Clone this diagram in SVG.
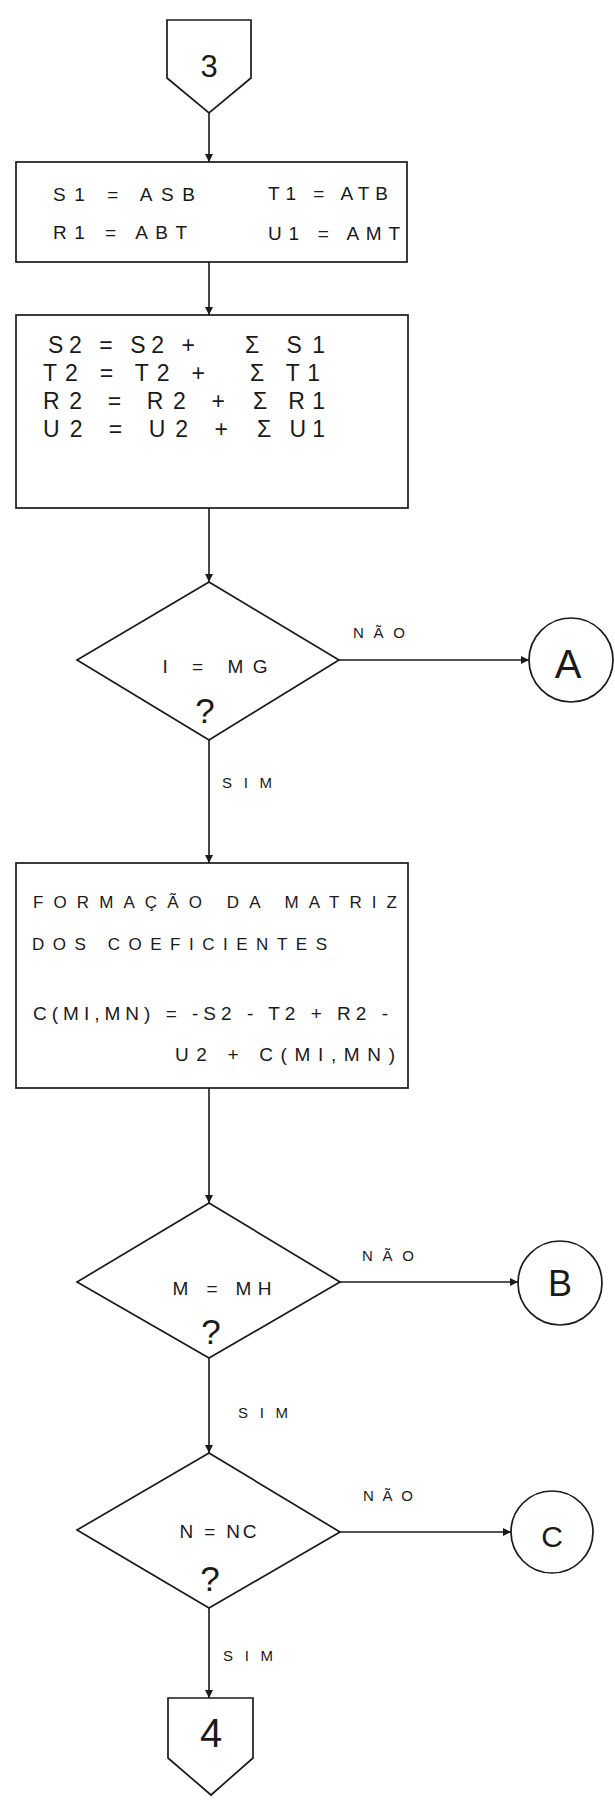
<svg xmlns="http://www.w3.org/2000/svg" width="615" height="1805" viewBox="0 0 615 1805">
<style>
  .shape { fill: none; stroke: #1a1a1a; stroke-width: 1.7; stroke-linejoin: miter; }
  .conn { fill: none; stroke: #1a1a1a; stroke-width: 1.6; }
  text { font-family: "Liberation Sans", Arial, sans-serif; fill: #1a1a1a; }
  .b1 { font-size: 19px; }
  .b2 { font-size: 23px; }
  .b3 { font-size: 17px; }
  .b3f { font-size: 19px; }
  .dec { font-size: 19px; text-anchor: middle; }
  .q { font-size: 35px; text-anchor: middle; }
  .lbl { font-size: 15px; }
  .big { text-anchor: middle; }
</style>
<defs>
  <marker id="arr" viewBox="0 0 10 10" refX="10" refY="5" markerWidth="8" markerHeight="8" markerUnits="userSpaceOnUse" orient="auto">
    <path d="M0,0 L10,5 L0,10 Z" fill="#1a1a1a"/>
  </marker>
</defs>
<rect x="0" y="0" width="615" height="1805" fill="#ffffff"/>

<g id="connectors">
  <line class="conn" x1="209" y1="113" x2="209" y2="162" marker-end="url(#arr)"/>
  <line class="conn" x1="209" y1="262" x2="209" y2="315" marker-end="url(#arr)"/>
  <line class="conn" x1="209" y1="508" x2="209" y2="582" marker-end="url(#arr)"/>
  <line class="conn" x1="209" y1="740" x2="209" y2="863" marker-end="url(#arr)"/>
  <line class="conn" x1="209" y1="1088" x2="209" y2="1203" marker-end="url(#arr)"/>
  <line class="conn" x1="209" y1="1358" x2="209" y2="1453" marker-end="url(#arr)"/>
  <line class="conn" x1="209" y1="1608" x2="209" y2="1698" marker-end="url(#arr)"/>
  <line class="conn" x1="339" y1="660" x2="529" y2="660" marker-end="url(#arr)"/>
  <line class="conn" x1="340" y1="1282" x2="518" y2="1282" marker-end="url(#arr)"/>
  <line class="conn" x1="340" y1="1532" x2="511" y2="1532" marker-end="url(#arr)"/>
  <text class="lbl" x="353" y="638" textLength="52" lengthAdjust="spacing">NÃO</text>
  <text class="lbl" x="222" y="788" textLength="50" lengthAdjust="spacing">SIM</text>
  <text class="lbl" x="362" y="1261" textLength="52" lengthAdjust="spacing">NÃO</text>
  <text class="lbl" x="238" y="1418" textLength="50" lengthAdjust="spacing">SIM</text>
  <text class="lbl" x="363" y="1501" textLength="50" lengthAdjust="spacing">NÃO</text>
  <text class="lbl" x="223" y="1661" textLength="50" lengthAdjust="spacing">SIM</text>
</g>

<g id="offpage3">
  <path class="shape" d="M167,20 L251,20 L251,78 L209,113 L167,78 Z"/>
  <text class="big" x="209" y="77" font-size="31">3</text>
</g>

<g id="box1">
  <rect class="shape" x="16" y="162" width="391" height="100"/>
  <text class="b1" x="53" y="201" textLength="142" lengthAdjust="spacing">S1 = ASB</text>
  <text class="b1" x="53" y="239" textLength="134" lengthAdjust="spacing">R1 = ABT</text>
  <text class="b1" x="268" y="200" textLength="120" lengthAdjust="spacing">T1 = ATB</text>
  <text class="b1" x="268" y="240" textLength="132" lengthAdjust="spacing">U1 = AMT</text>
</g>

<g id="box2">
  <rect class="shape" x="16" y="315" width="392" height="193"/>
  <text class="b2" x="48" y="353" textLength="147" lengthAdjust="spacing">S2 = S2 +</text>
  <text class="b2" x="43" y="381" textLength="162" lengthAdjust="spacing">T2 = T2 +</text>
  <text class="b2" x="43" y="409" textLength="182" lengthAdjust="spacing">R2 = R2 +</text>
  <text class="b2" x="43" y="437" textLength="185" lengthAdjust="spacing">U2 = U2 +</text>
  <text class="b2" x="245" y="353" textLength="80" lengthAdjust="spacing">Σ S1</text>
  <text class="b2" x="250" y="381" textLength="70" lengthAdjust="spacing">Σ T1</text>
  <text class="b2" x="253" y="409" textLength="72" lengthAdjust="spacing">Σ R1</text>
  <text class="b2" x="257" y="437" textLength="68" lengthAdjust="spacing">Σ U1</text>
</g>

<g id="decision1">
  <path class="shape" d="M209,582 L339,660 L209,740 L77,660 Z"/>
  <text class="dec" x="215" y="673" textLength="105" lengthAdjust="spacing">I = MG</text>
  <text class="q" x="205" y="723">?</text>
</g>

<g id="connA">
  <circle class="shape" cx="571" cy="660" r="42"/>
  <text class="big" x="568" y="678" font-size="40">A</text>
</g>

<g id="box3">
  <rect class="shape" x="16" y="863" width="392" height="225"/>
  <text class="b3" x="33" y="908" textLength="364" lengthAdjust="spacing">FORMAÇÃO DA MATRIZ</text>
  <text class="b3" x="32" y="950" textLength="295" lengthAdjust="spacing">DOS COEFICIENTES</text>
  <text class="b3f" x="33" y="1020" textLength="355" lengthAdjust="spacing">C(MI,MN) = -S2 - T2 + R2 -</text>
  <text class="b3f" x="175" y="1061" textLength="220" lengthAdjust="spacing">U2 + C(MI,MN)</text>
</g>

<g id="decision2">
  <path class="shape" d="M209,1203 L340,1282 L209,1358 L77,1282 Z"/>
  <text class="dec" x="222" y="1295" textLength="99" lengthAdjust="spacing">M = MH</text>
  <text class="q" x="211" y="1344">?</text>
</g>

<g id="connB">
  <circle class="shape" cx="560" cy="1283" r="42"/>
  <text class="big" x="560" y="1296" font-size="36">B</text>
</g>

<g id="decision3">
  <path class="shape" d="M209,1453 L340,1532 L209,1608 L77,1530 Z"/>
  <text class="dec" x="218" y="1538" textLength="77" lengthAdjust="spacing">N = NC</text>
  <text class="q" x="210" y="1591">?</text>
</g>

<g id="connC">
  <circle class="shape" cx="552" cy="1532" r="41"/>
  <text class="big" x="552" y="1547" font-size="30">C</text>
</g>

<g id="offpage4">
  <path class="shape" d="M168,1698 L253,1698 L253,1758 L211,1795 L168,1758 Z"/>
  <text class="big" x="211" y="1747" font-size="40">4</text>
</g>
</svg>
